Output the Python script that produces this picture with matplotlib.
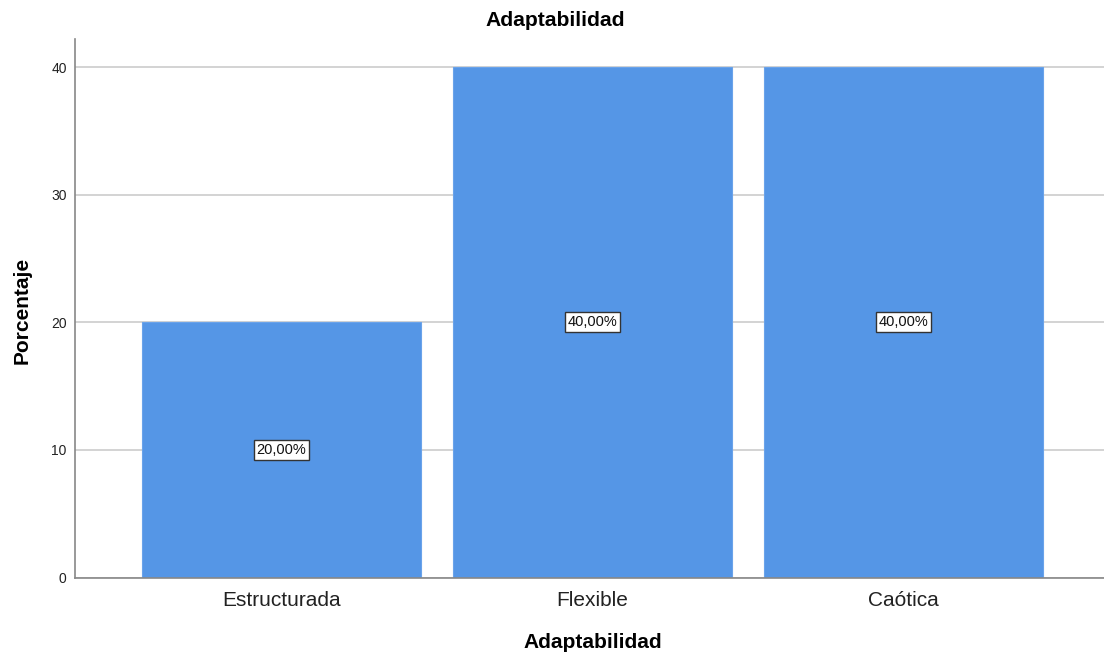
import matplotlib
matplotlib.use("Agg")
import matplotlib.pyplot as plt

# datos del grafico
categorias = ["Estructurada", "Flexible", "Caótica"]
porcentajes = [20.0, 40.0, 40.0]
etiquetas = ["20,00%", "40,00%", "40,00%"]
yticks = [0, 10, 20, 30, 40]

plt.rcParams['font.family'] = ['Liberation Sans', 'DejaVu Sans']

fig = plt.figure(figsize=(11.04, 6.57), dpi=100)
ax = fig.add_axes([0.068, 0.121, 0.932, 0.8195])

pos = list(range(len(categorias)))
ax.bar(pos, porcentajes, width=0.897, color='#5596e6', edgecolor='#6aa3ea',
       linewidth=0.8, zorder=2)

for x, v, t in zip(pos, porcentajes, etiquetas):
    ax.text(x, v / 2, t, ha='center', va='center', fontsize=10.5, color='#111111',
            bbox=dict(boxstyle='square,pad=0.2', facecolor='white',
                      edgecolor='#333333', linewidth=1.0), zorder=3)

ax.set_xlim(-0.664, 2.645)
ax.set_ylim(0, 42.2)
ax.set_yticks(yticks)
ax.set_xticks(pos)
ax.set_xticklabels(categorias, fontsize=15, color='#222222')
ax.tick_params(axis='y', length=0, labelsize=10, colors='#222222', pad=6)
ax.tick_params(axis='x', length=0, pad=10)
ax.yaxis.grid(True, color='#cccccc', linewidth=1.2, zorder=0)
ax.set_axisbelow(True)

for s in ['top', 'right']:
    ax.spines[s].set_visible(False)
ax.spines['left'].set_color('#888888')
ax.spines['bottom'].set_color('#888888')
ax.spines['left'].set_linewidth(1.2)
ax.spines['bottom'].set_linewidth(1.2)

# titulos como texto de figura para ubicarlos igual que el original
fig.text(592.5 / 1104, 1 - 642 / 657, "Adaptabilidad", ha='center', va='center',
         fontsize=15, fontweight='bold')
fig.text(22 / 1104, 1 - 310 / 657, "Porcentaje", ha='center', va='center',
         rotation=90, fontsize=15, fontweight='bold')
fig.text(555.5 / 1104, 1 - 21 / 657, "Adaptabilidad", ha='center', va='center',
         fontsize=15.2, fontweight='bold')

fig.savefig("out.png", dpi=100)
